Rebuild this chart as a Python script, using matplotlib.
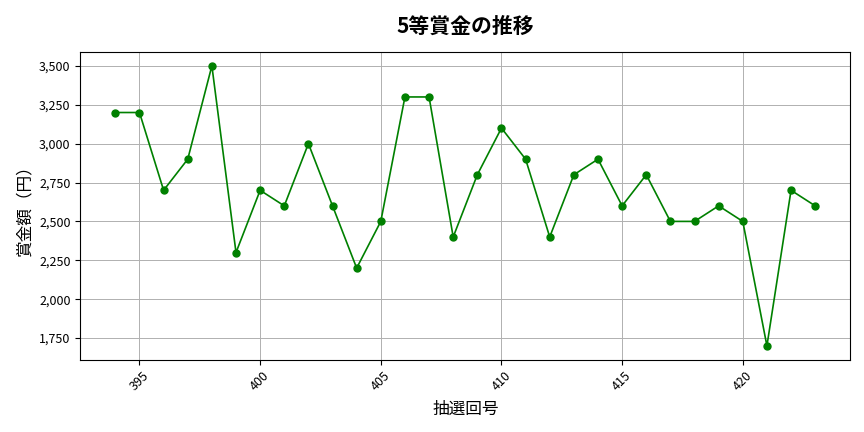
import matplotlib.pyplot as plt
from matplotlib.ticker import FuncFormatter

plt.rcParams['font.family'] = ['Noto Sans CJK JP', 'DejaVu Sans']

# 抽選回 and 5等 prize
draws = list(range(394, 424))
prizes = [3200, 3200, 2700, 2900, 3500, 2300, 2700, 2600, 3000, 2600,
          2200, 2500, 3300, 3300, 2400, 2800, 3100, 2900, 2400, 2800,
          2900, 2600, 2800, 2500, 2500, 2600, 2500, 1700, 2700, 2600]

fig, ax = plt.subplots(figsize=(8.64, 4.32), dpi=100)
fig.subplots_adjust(left=0.093, right=0.984, top=0.88, bottom=0.167)

ax.plot(draws, prizes, color='green', marker='o', markersize=5, linewidth=1.2)
ax.set_title('5等賞金の推移', fontsize=15, fontweight='bold', pad=14)
ax.set_xlabel('抽選回号', fontsize=12, labelpad=5)
ax.set_ylabel('賞金額（円）', fontsize=12)
ax.yaxis.set_major_formatter(FuncFormatter(lambda v, p: f'{int(v):,}'))
ax.grid(True, color='#b0b0b0', linewidth=0.7)
plt.setp(ax.get_xticklabels(), rotation=45)
ax.tick_params(labelsize=9)

plt.savefig('out.png')
